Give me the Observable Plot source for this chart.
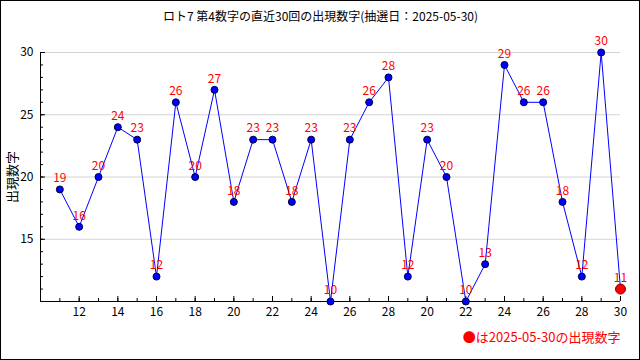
<!DOCTYPE html>
<html><head><meta charset="utf-8">
<script src="https://cdn.jsdelivr.net/npm/d3@7"></script>
<script src="https://cdn.jsdelivr.net/npm/@observablehq/plot@0.6"></script>
<style>
body{margin:0;background:#fff}
#chart{width:640px;height:360px}
#chart svg{outline:1px solid #000;outline-offset:-1px;display:block}
</style>
</head><body><div id="chart"></div>
<script>
const titleText = "ロト7 第4数字の直近30回の出現数字(抽選日：2025-05-30)";
const yLabel = "出現数字";
const legendText = "●は2025-05-30の出現数字";
const draws = d3.range(1, 31);
const numbers = [19,16,20,24,23,12,26,20,27,18,23,23,18,23,10,23,26,28,12,23,20,10,13,29,26,26,18,12,30,11];
const xTickPositions = [2,4,6,8,10,12,14,16,18,20,22,24,26,28,30];
const xTickLabels = ["12","14","16","18","20","22","24","26","28","20","22","24","26","28","30"];
const yTicks = [15,20,25,30];

const labelMap = new Map(xTickPositions.map((p, i) => [p, xTickLabels[i]]));
const data = draws.map((d, i) => ({draw: d, value: numbers[i], latest: i === draws.length - 1}));
const font = "'Noto Sans CJK JP', 'DejaVu Sans', sans-serif";

const plot = Plot.plot({
  width: 640, height: 360,
  marginLeft: 40, marginRight: 20, marginTop: 52, marginBottom: 59,
  x: {domain: [0, 30]},
  y: {domain: [10, 30]},
  style: {fontFamily: font, fontSize: "12px", background: "#fff", color: "#000"},
  marks: [
    Plot.gridY(yTicks, {stroke: "#d4d4d4", strokeOpacity: 1}),
    Plot.ruleY([10], {stroke: "#000"}),
    Plot.ruleX([0], {stroke: "#000"}),
    Plot.ruleX(d3.range(1, 30), {y1: 10, y2: 10, insetTop: -3, stroke: "#000"}),
    Plot.ruleX(xTickPositions, {y1: 10, y2: 10, insetTop: -5, stroke: "#000"}),
    Plot.ruleY(d3.range(11, 30), {x1: 0, x2: 0, insetRight: -3, stroke: "#000"}),
    Plot.ruleY(yTicks, {x1: 0, x2: 0, insetRight: -5, stroke: "#000"}),
    Plot.axisX(xTickPositions, {tickSize: 0, tickPadding: 6, tickFormat: d => labelMap.get(d), label: null, fill: "#000"}),
    Plot.axisY(yTicks, {tickSize: 0, tickPadding: 7, label: null, fill: "#000"}),
    Plot.text([yLabel], {frameAnchor: "left", textAnchor: "middle", dx: -28, rotate: -90, fontSize: 13, fill: "#000"}),
    Plot.text([titleText], {frameAnchor: "top", dx: -10, dy: -40, fontSize: 12, fill: "#000"}),
    Plot.text([legendText], {frameAnchor: "bottom-right", textAnchor: "end", dy: 40, fontSize: 13, fill: "#ff0000"}),
    Plot.line(data, {x: "draw", y: "value", stroke: "#0000ff", strokeWidth: 1}),
    Plot.dot(data.filter(d => !d.latest), {x: "draw", y: "value", r: 3.5, fill: "#0000ff", stroke: "#000040", strokeWidth: 1}),
    Plot.dot(data.filter(d => d.latest), {x: "draw", y: "value", r: 5, fill: "#ff0000", stroke: "#800000", strokeWidth: 1}),
    Plot.text(data, {x: "draw", y: "value", text: d => String(d.value), dy: -11, fill: "#ff0000", fontSize: 12})
  ]
});
document.getElementById("chart").appendChild(plot);
</script>
</body></html>
